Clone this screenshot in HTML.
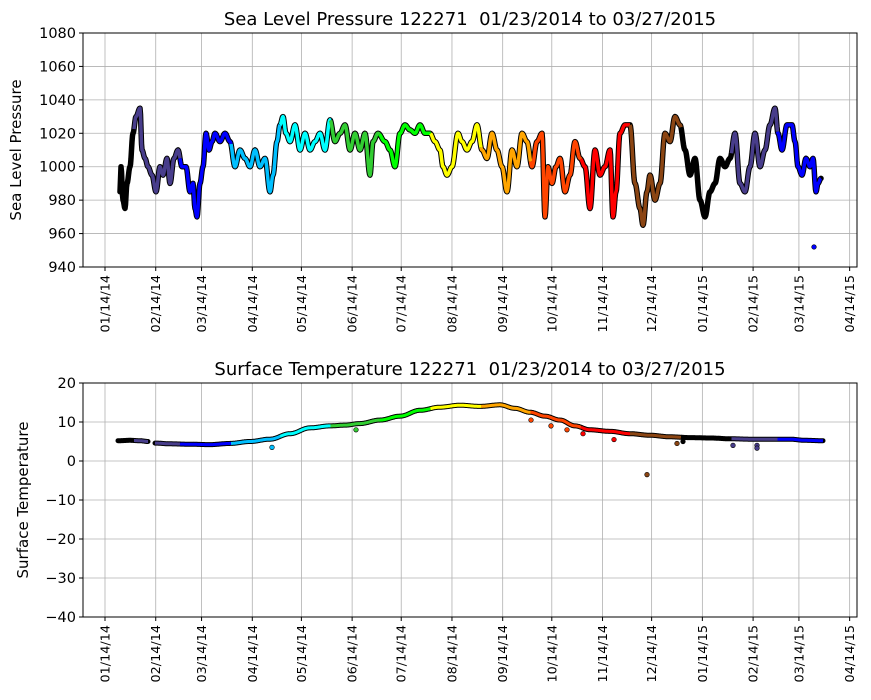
<!DOCTYPE html>
<html><head><meta charset="utf-8">
<style>
html,body{margin:0;padding:0;background:#fff;}
svg{display:block;font-family:"DejaVu Sans","Liberation Sans",sans-serif;}
</style></head>
<body>
<svg id="s" width="871" height="700" xmlns="http://www.w3.org/2000/svg"></svg>
<script>
const S=document.getElementById('s');
let h='';
const L=83,R=857;
function xOfDay(d){return 105+d*1.6366;}
const ticks=['01/14/14','02/14/14','03/14/14','04/14/14','05/14/14','06/14/14','07/14/14','08/14/14','09/14/14','10/14/14','11/14/14','12/14/14','01/14/15','02/14/15','03/14/15','04/14/15'];
const tickDays=[0,31,59,90,120,151,181,212,243,273,304,334,365,396,424,455];
const monthStarts=[-13,18,46,77,107,138,168,199,230,260,291,321,352,383,411,442].map(xOfDay);
const cols=['#000000','#483d8b','#0000ff','#00bfff','#00ffff','#32cd32','#00ff00','#ffff00','#ffa500','#ff4500','#ff0000','#8b4513','#000000','#483d8b','#0000ff'];
function colAt(x){let c=0;for(let i=0;i<monthStarts.length;i++)if(x>=monthStarts[i])c=i;return cols[c];}
function axes(T,B,yvals,ymap,title,ylabel){
  for(const d of tickDays){const x=xOfDay(d);h+=`<line x1="${x}" y1="${T}" x2="${x}" y2="${B}" stroke="#b0b0b0" stroke-width="0.8"/>`;}
  for(const v of yvals){const y=ymap(v);h+=`<line x1="${L}" y1="${y}" x2="${R}" y2="${y}" stroke="#b0b0b0" stroke-width="0.8"/>`;}
  h+=`<text x="${(L+R)/2}" y="${T-8}" font-size="18" text-anchor="middle">${title}</text>`;
  h+=`<text transform="translate(${ylabel[1]},${(T+B)/2}) rotate(-90)" font-size="15" text-anchor="middle">${ylabel[0]}</text>`;
  for(const v of yvals){const y=ymap(v);h+=`<line x1="${L-4}" y1="${y}" x2="${L}" y2="${y}" stroke="#000"/><text x="${L-7}" y="${y+5}" font-size="14.5" text-anchor="end">${v<0?'\u2212'+(-v):v}</text>`;}
  tickDays.forEach((d,i)=>{const x=xOfDay(d);h+=`<line x1="${x}" y1="${B}" x2="${x}" y2="${B+4}" stroke="#000"/><text transform="translate(${x+4.5},${B+8}) rotate(-90)" font-size="12.8" text-anchor="end">${ticks[i]}</text>`;});
}
function frame(T,B){h+=`<rect x="${L}" y="${T}" width="${R-L}" height="${B-T}" fill="none" stroke="#000" stroke-width="1"/>`;}
function series(pts,ymap,w){
  const dense=[];
  for(let i=0;i<pts.length-1;i++){const [x0,v0]=pts[i],[x1,v1]=pts[i+1];const n=Math.max(1,Math.round((x1-x0)*2));
    for(let k=0;k<n;k++){const t=k/n;const tt=(1-Math.cos(Math.PI*t))/2;dense.push([x0+(x1-x0)*t,v0+(v1-v0)*tt]);}}
  dense.push(pts[pts.length-1]);
  h+=`<polyline points="${dense.map(p=>p[0].toFixed(1)+','+ymap(p[1]).toFixed(1)).join(' ')}" fill="none" stroke="#000" stroke-width="${w+2}" stroke-linejoin="round" stroke-linecap="round"/>`;
  let cur=null,seg=[];
  for(const p of dense){const c=colAt(p[0]);if(c!==cur){if(seg.length>1)h+=`<polyline points="${seg.join(' ')}" fill="none" stroke="${cur}" stroke-width="${w}" stroke-linejoin="round"/>`;seg=seg.length?[seg[seg.length-1]]:[];cur=c;}seg.push(p[0].toFixed(1)+','+ymap(p[1]).toFixed(1));}
  if(seg.length>1)h+=`<polyline points="${seg.join(' ')}" fill="none" stroke="${cur}" stroke-width="${w}" stroke-linejoin="round"/>`;
}
const pY=v=>33+(1080-v)*234/140;
axes(33,267,[940,960,980,1000,1020,1040,1060,1080],pY,'Sea Level Pressure 122271&#160;&#160;01/23/2014 to 03/27/2015',['Sea Level Pressure',21]);
const P=[[120,985],[121,1000],[123,980],[125,975],[127,990],[130,1000],[133,1020],[136,1030],[140,1035],[142,1010],[145,1005],[148,1000],[152,995],[156,985],[160,1000],[163,995],[167,1005],[170,990],[174,1005],[178,1010],[182,1000],[186,1000],[190,985],[193,990],[195,975],[197,970],[200,990],[203,1000],[206,1020],[209,1010],[212,1015],[215,1020],[220,1015],[225,1020],[230,1015],[235,1000],[240,1010],[245,1005],[250,1000],[255,1010],[260,1000],[265,1005],[270,985],[273,995],[277,1015],[280,1025],[283,1030],[286,1020],[290,1015],[295,1025],[300,1010],[305,1020],[310,1010],[315,1015],[320,1020],[325,1010],[330,1028],[335,1015],[340,1020],[345,1025],[350,1010],[355,1020],[360,1010],[365,1020],[370,995],[373,1015],[378,1020],[385,1015],[390,1010],[395,1000],[400,1020],[405,1025],[410,1022],[415,1020],[420,1025],[425,1020],[430,1020],[435,1015],[440,1010],[443,1000],[447,995],[452,1000],[458,1020],[462,1015],[467,1010],[472,1015],[477,1025],[482,1010],[487,1005],[492,1020],[497,1010],[502,1000],[507,985],[512,1010],[517,1000],[522,1020],[527,1015],[532,1000],[537,1015],[542,1020],[545,970],[548,1000],[552,990],[556,1000],[560,1005],[565,985],[570,995],[575,1015],[580,1005],[585,1000],[590,975],[595,1010],[600,995],[605,1000],[610,1010],[613,970],[616,985],[620,1020],[625,1025],[630,1025],[635,990],[640,975],[643,965],[647,985],[650,995],[655,980],[660,990],[665,1020],[670,1015],[675,1030],[680,1025],[685,1010],[690,995],[695,1005],[700,980],[705,970],[710,985],[715,990],[720,1005],[725,1000],[730,1005],[735,1020],[740,990],[745,985],[750,1000],[755,1020],[760,1000],[765,1010],[770,1025],[775,1035],[778,1020],[782,1010],[787,1025],[792,1025],[795,1015],[798,1000],[802,995],[806,1005],[810,1000],[813,1005],[816,985],[818,990],[821,993]];
series(P,pY,3.5);
h+=`<circle cx="814" cy="${pY(952)}" r="2.3" fill="#0000ff" stroke="#000" stroke-width="0.6"/>`;
frame(33,267);
const tY=v=>383+(20-v)*3.9;
axes(383,617,[20,10,0,-10,-20,-30,-40],tY,'Surface Temperature 122271&#160;&#160;01/23/2014 to 03/27/2015',['Surface Temperature',28]);
const T1=[[118,5.2],[130,5.3],[140,5.2],[148,5]];
const T2=[[155,4.6],[170,4.4],[190,4.3],[210,4.2],[230,4.5],[250,5],[270,5.6],[290,7],[310,8.5],[330,9],[345,9.2],[360,9.6],[380,10.5],[400,11.5],[420,13],[440,13.8],[460,14.3],[480,14],[500,14.4],[515,13.5],[530,12.5],[545,11.5],[560,10.5],[575,9],[590,8],[610,7.6],[630,7],[650,6.6],[670,6.2],[690,6],[710,5.9],[730,5.7],[750,5.6],[770,5.6],[790,5.6],[805,5.3],[823,5.2]];
series(T1,tY,3);series(T2,tY,3);
[[272,3.5],[356,8],[531,10.5],[551,9],[567,8],[583,7],[614,5.5],[647,-3.5],[677,4.5],[683,5],[733,4],[757,4],[757,3.3]].forEach(p=>{h+=`<circle cx="${p[0]}" cy="${tY(p[1])}" r="2.3" fill="${colAt(p[0])}" stroke="#000" stroke-width="0.6"/>`;});
frame(383,617);
S.innerHTML=h;
</script>
</body></html>
